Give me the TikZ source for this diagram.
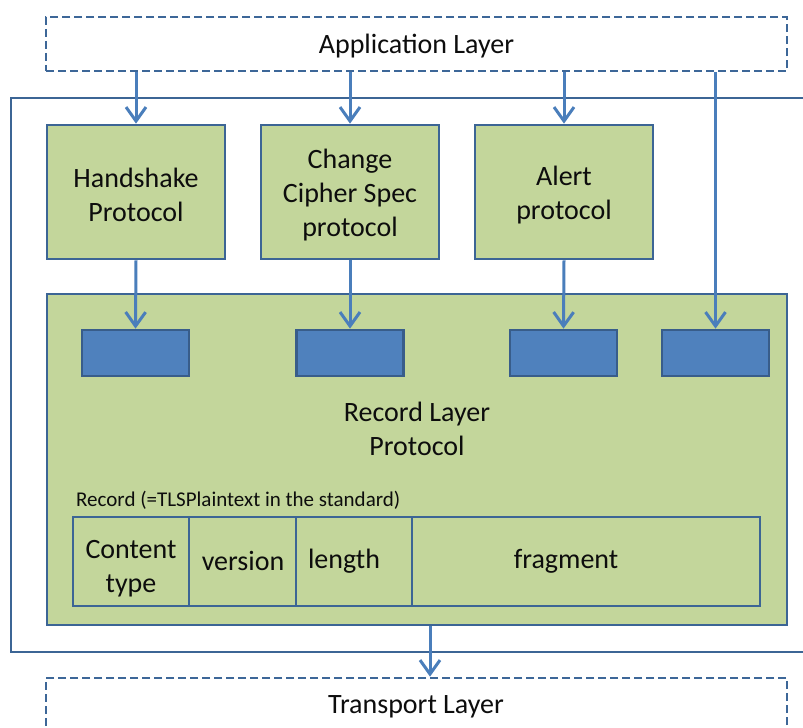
\documentclass[tikz,border=0pt]{standalone}
\usepackage{fontspec}
\setmainfont{Carlito}
\usetikzlibrary{arrows.meta}
\definecolor{layerline}{HTML}{3D6798}
\definecolor{boxline}{HTML}{3C6595}
\definecolor{greenfill}{HTML}{C3D69B}
\definecolor{bluefill}{HTML}{4F81BD}
\definecolor{blueline}{HTML}{385D8A}
\definecolor{arrowblue}{HTML}{4A7EBB}
\definecolor{txt}{HTML}{0D0D0D}
\tikzset{
  bigfont/.style={font=\fontsize{28}{34}\selectfont, text=txt},
  layerbox/.style={draw=layerline, line width=2.7pt, dash pattern=on 8pt off 4pt, minimum width=741pt, minimum height=54pt, inner sep=0pt},
  protobox/.style={draw=boxline, fill=greenfill, line width=2.7pt, minimum width=178pt, minimum height=134pt, inner sep=0pt},
  slotbox/.style={draw=blueline, fill=bluefill, line width=2.7pt, minimum width=107pt, minimum height=46pt, inner sep=0pt},
  cellbox/.style={draw=boxline, line width=2.7pt, minimum height=89pt, inner sep=0pt},
  celltext/.style={bigfont, align=center, inner sep=0pt},
  flow/.style={draw=arrowblue, line width=3pt, -{Straight Barb[length=14pt,width=20pt]}},
}
\begin{document}
\begin{tikzpicture}[x=1pt, y=-1pt]
  \useasboundingbox (0,0) rectangle (803,728);
  \fill[white] (0,0) rectangle (803,728);
  \clip (0,0) rectangle (803,728);

  % surrounding TLS frame (runs off the right edge)
  \node[draw=boxline, line width=2.2pt, minimum width=819pt, minimum height=554pt, inner sep=0pt] (frame) at (420.5,375) {};

  % layers above and below
  \node[layerbox] (app) at (416.5,44) {};
  \node[celltext] (appTxt) at (416.5,46) {Application Layer};
  \node[layerbox, minimum height=62pt] (transport) at (416.5,709) {};
  \node[celltext] (transportTxt) at (416,707) {Transport Layer};

  % upper-layer protocols
  \node[protobox] (hs) at (136,192) {};
  \node[protobox] (ccs) at (350,192) {};
  \node[protobox] (alert) at (564,192) {};
  \node[celltext] (hsTxt) at (136,195) {Handshake\\Protocol};
  \node[celltext] (ccsTxt) at (350,195) {Change\\Cipher Spec\\protocol};
  \node[celltext] (alertTxt) at (564,195) {Alert\\protocol};

  % record layer
  \node[draw=boxline, fill=greenfill, line width=2.7pt, minimum width=740pt, minimum height=331pt, inner sep=0pt] (rec) at (417,459.5) {};
  \node[slotbox] (s1) at (135.5,353) {};
  \node[slotbox] (s2) at (350,353) {};
  \node[slotbox] (s3) at (563.5,353) {};
  \node[slotbox] (s4) at (715.5,353) {};
  \node[celltext] (recTxt) at (417,429) {Record Layer\\Protocol};
  \node[font=\fontsize{21}{25}\selectfont, text=txt, anchor=west, inner sep=0pt] (recLabel) at (76,500) {Record (=TLSPlaintext in the standard)};

  % record structure
  \node[cellbox, minimum width=116pt] (c1) at (131,561.5) {};
  \node[cellbox, minimum width=107pt] (c2) at (242.5,561.5) {};
  \node[cellbox, minimum width=116pt] (c3) at (354,561.5) {};
  \node[cellbox, minimum width=348pt] (c4) at (586,561.5) {};
  \node[celltext] (t1) at (131,569) {Content\\type};
  \node[celltext] (t2) at (243,561) {version};
  \node[celltext] (t3) at (344,561) {length};
  \node[celltext] (t4) at (566,561) {fragment};

  % data flow
  \draw[flow] (app.south -| hs) -- (hs.north);
  \draw[flow] (app.south -| ccs) -- (ccs.north);
  \draw[flow] (app.south -| alert) -- (alert.north);
  \draw[flow] (app.south -| s4) -- (s4.north);
  \draw[flow] (hs.south) -- (s1.north);
  \draw[flow] (ccs.south) -- (s2.north);
  \draw[flow] (alert.south) -- (s3.north);
  \draw[flow] ([xshift=13pt]rec.south) -- ([xshift=13pt]rec.south |- transport.north);
\end{tikzpicture}
\end{document}
